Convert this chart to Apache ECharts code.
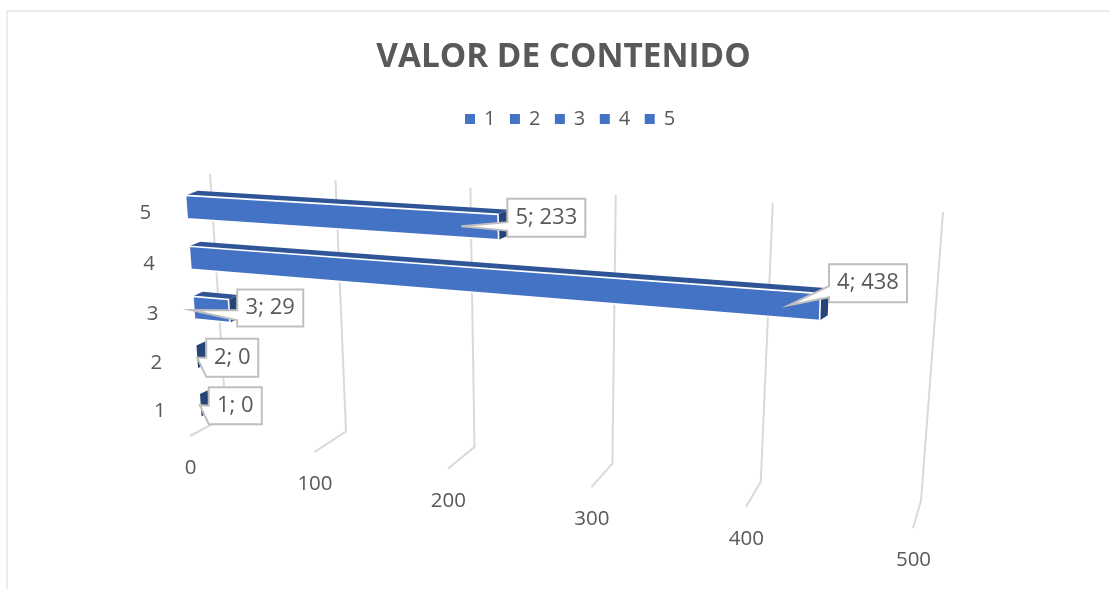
<!DOCTYPE html>
<html><head><meta charset="utf-8">
<style>html,body{margin:0;padding:0;background:#fff}#c{width:1110px;height:589px}</style>
<script src="https://cdn.jsdelivr.net/npm/echarts@6/dist/echarts.min.js"></script>
</head><body><div id="c"></div>
<script>
// ---- data ----
const chartTitle = 'VALOR DE CONTENIDO';
const categories = ['1', '2', '3', '4', '5'];
const values = [0, 0, 29, 438, 233];
const valueTicks = [0, 100, 200, 300, 400, 500];

// ---- perspective planes: [top-left, top-right, bottom-left, bottom-right] of the plot square ----
const wallQuad  = [[210, 174], [943, 212], [226, 417], [921, 501]];
const floorQuad = [[170, 190], [935, 235], [190, 436], [913, 528]];
const frontQuad = [[184.5, 181.5], [932, 224], [202.5, 429], [918, 519]];
const backQuad  = [[197, 177], [939, 219], [209.5, 425.5], [925, 514]];
const barShare = 0.46;

// ---- callout layout, relative to the projected bar end: box centre, box size, tip, wedge span on box's left edge ----
const calloutBox  = [[34.5, 0.5], [35, 1], [41, -3], [48, -24], [48, -9.5]];
const calloutSize = [[53, 37], [52, 38], [66, 37], [78, 38], [78, 38]];
const calloutTip  = [[-1, 0], [0, 1], [-38, -1], [-31, -2], [-37, -1]];
const calloutSpan = [[0.5, 1], [0.5, 1], [0.56, 0.83], [0.58, 0.87], [0.62, 0.84]];

const FONT = '"Open Sans", sans-serif';
const GREY = '#595959', LINE = '#d9d9d9', BOX = '#bfbfbf';
const BLUE = '#4472c4', TOP = '#2f5597', SIDE = '#264478';

// square-to-quad projective map
function projector(q) {
  const [p0, p1, p3, p2] = q; // (0,0) (1,0) (0,1) (1,1)
  const dx1 = p1[0] - p2[0], dx2 = p3[0] - p2[0], sx = p0[0] - p1[0] + p2[0] - p3[0];
  const dy1 = p1[1] - p2[1], dy2 = p3[1] - p2[1], sy = p0[1] - p1[1] + p2[1] - p3[1];
  const den = dx1 * dy2 - dx2 * dy1;
  const g = (sx * dy2 - dx2 * sy) / den, h = (dx1 * sy - sx * dy1) / den;
  const a = p1[0] - p0[0] + g * p1[0], b = p3[0] - p0[0] + h * p3[0], c = p0[0];
  const d = p1[1] - p0[1] + g * p1[1], e = p3[1] - p0[1] + h * p3[1], f = p0[1];
  return (u, t) => {
    const w = g * u + h * t + 1;
    return [(a * u + b * t + c) / w, (d * u + e * t + f) / w];
  };
}
const wall = projector(wallQuad), floorFront = projector(floorQuad),
      front = projector(frontQuad), back = projector(backQuad);

// unit-square position from the library's own scales
function unit(params, api, v, catIdx, off) {
  const r = params.coordSys;
  const p = api.coord([v, catIdx]);
  const band = api.size([0, 1])[1];
  return [(p[0] - r.x) / r.width, (p[1] + off * band - r.y) / r.height];
}
const poly = (points, style) => ({ type: 'polygon', shape: { points }, style });

function renderBar(params, api) {
  const v = api.value(0), c = api.value(1), hw = barShare / 2;
  const [u0, t0] = unit(params, api, 0, c, -hw);
  const [u1, t1] = unit(params, api, v, c, hw);
  const fTL = front(u0, t0), fTR = front(u1, t0), fBL = front(u0, t1), fBR = front(u1, t1);
  const bTL = back(u0, t0), bTR = back(u1, t0), bBR = back(u1, t1);
  const children = [];
  children.push(poly([fTR, bTR, bBR, fBR], { fill: SIDE }));
  if (v > 0) {
    children.push(poly([fTL, bTL, bTR, fTR], { fill: TOP }));
    children.push(poly([fTL, fTR, fBR, fBL], { fill: BLUE, stroke: '#fff', lineWidth: 1.6 }));
  }
  return { type: 'group', children };
}

function renderGrid(params, api) {
  const r = params.coordSys;
  const u = (api.coord([api.value(0), 0])[0] - r.x) / r.width;
  const top = wall(u, 0), bot = wall(u, 1), fr = floorFront(u, 1);
  return {
    type: 'group',
    children: [
      { type: 'polyline', shape: { points: [top, bot, fr] }, style: { stroke: LINE, lineWidth: 2, fill: 'none' } },
      { type: 'text', style: { text: String(api.value(0)), x: fr[0] + 0.5, y: fr[1] + 32.5, fill: GREY,
        fontSize: 20.5, fontFamily: FONT, align: 'center', verticalAlign: 'middle' } }
    ]
  };
}

function renderCatLabel(params, api) {
  const c = api.value(1);
  const [u, t] = unit(params, api, 0, c, 0);
  const p = front(u, t);
  return { type: 'text', style: { text: categories[c], x: p[0] - 41, y: p[1] + 6, fill: GREY,
    fontSize: 20.5, fontFamily: FONT, align: 'center', verticalAlign: 'middle' } };
}

function renderCallout(params, api) {
  const v = api.value(0), c = api.value(1);
  const [u, t] = unit(params, api, v, c, 0);
  const a = front(u, t);
  const cx = a[0] + calloutBox[c][0], cy = a[1] + calloutBox[c][1];
  const w = calloutSize[c][0], h = calloutSize[c][1];
  const l = cx - w / 2, r = cx + w / 2, y0 = cy - h / 2, y1 = cy + h / 2;
  const tip = [a[0] + calloutTip[c][0], a[1] + calloutTip[c][1]];
  const pts = [[l, y0], [r, y0], [r, y1], [l, y1],
    [l, y0 + h * calloutSpan[c][1]], tip, [l, y0 + h * calloutSpan[c][0]]];
  return {
    type: 'group',
    children: [
      poly(pts, { fill: '#fff', stroke: BOX, lineWidth: 2 }),
      { type: 'text', style: { text: categories[c] + '; ' + v, x: cx, y: cy, fill: GREY,
        fontSize: 22, fontFamily: FONT, align: 'center', verticalAlign: 'middle' } }
    ]
  };
}

const base = { type: 'custom', coordinateSystem: 'cartesian2d', silent: true, clip: false };
const rows = categories.map((c, i) => [values[i], c]);

const series = [
  Object.assign({}, base, { name: 'grid', z: 1, renderItem: renderGrid, data: valueTicks.map(v => [v, categories[0]]), encode: { x: 0, y: 1 } }),
  Object.assign({}, base, { name: 'catLabels', z: 1, renderItem: renderCatLabel, data: rows, encode: { x: 0, y: 1 } })
];
categories.forEach((c, i) => {
  series.push(Object.assign({}, base, {
    name: c, z: 2 + (categories.length - i) * 0.01, renderItem: renderBar,
    itemStyle: { color: BLUE }, data: [rows[i]], encode: { x: 0, y: 1 }
  }));
});
series.push(Object.assign({}, base, { name: 'labels', z: 3, renderItem: renderCallout, data: rows, encode: { x: 0, y: 1 } }));

const chart = echarts.init(document.getElementById('c'), null, { renderer: 'canvas' });
chart.setOption({
  animation: false,
  backgroundColor: '#fff',
  title: { text: chartTitle, left: 558.5, top: 36, textAlign: 'center',
    textStyle: { color: GREY, fontFamily: FONT, fontWeight: 'bold', fontSize: 33.3 } },
  legend: { data: categories, left: 460, top: 104, icon: 'rect', itemWidth: 10, itemHeight: 10, itemGap: 14.5,
    selectedMode: false, textStyle: { color: GREY, fontFamily: FONT, fontSize: 20, padding: [0, 0, 0, 4] } },
  grid: { left: 100, top: 40, width: 800, height: 500 },
  xAxis: { type: 'value', min: 0, max: 500, interval: 100, show: false },
  yAxis: { type: 'category', data: categories, show: false },
  graphic: [{ type: 'rect', silent: true, shape: { x: 7, y: 11, width: 1300, height: 800 },
    style: { fill: 'none', stroke: LINE, lineWidth: 1 } }],
  series
});
</script></body></html>
